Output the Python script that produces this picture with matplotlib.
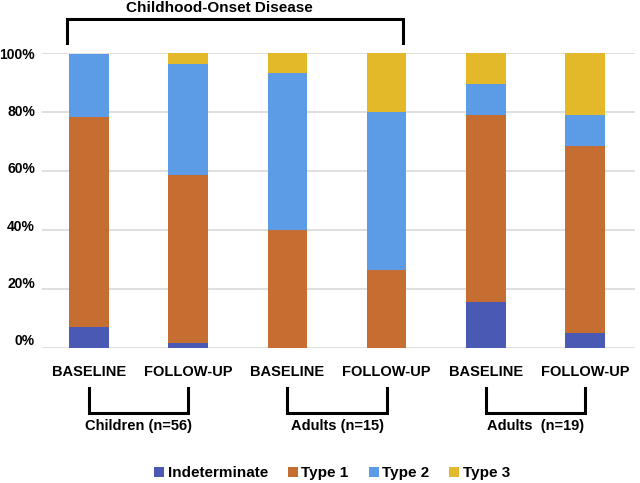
import matplotlib
matplotlib.use("Agg")
import matplotlib.pyplot as plt
import matplotlib.transforms as mtransforms
import numpy as np

plt.rcParams['font.family'] = ['Liberation Sans', 'DejaVu Sans']

# percentages per bar (children n=56, adults n=15, adults n=19)
visits = ["BASELINE", "FOLLOW-UP", "BASELINE", "FOLLOW-UP", "BASELINE", "FOLLOW-UP"]
indeterminate = [7.1, 1.8, 0.0, 0.0, 15.8, 5.3]
type1 = [71.4, 57.1, 40.0, 26.7, 63.2, 63.2]
type2 = [21.4, 37.5, 53.3, 53.3, 10.5, 10.5]
type3 = [0.0, 3.6, 6.7, 20.0, 10.5, 21.1]

series_names = ["Indeterminate", "Type 1", "Type 2", "Type 3"]
colors = ["#4A59B4", "#C66D31", "#5C9CE6", "#E3B829"]

groups = ["Children (n=56)", "Adults (n=15)", "Adults  (n=19)"]
group_bars = [(0, 1), (2, 3), (4, 5)]
top_label = "Childhood-Onset Disease"
top_span = (0, 3)

fig = plt.figure(figsize=(6.4, 4.83), dpi=100)
ax = fig.add_axes([0.0656, 0.2789, 0.9266, 0.6108])

x = np.arange(len(visits))
bottom = np.zeros(len(visits))
for name, vals, c in zip(series_names, [indeterminate, type1, type2, type3], colors):
    vals = np.array(vals)
    ax.bar(x, vals, 0.4, bottom=bottom, color=c, label=name, zorder=3)
    bottom += vals

ax.set_ylim(0, 100)
ax.set_xlim(-0.474, 5.504)
yt = np.arange(0, 101, 20)
ax.set_yticks(yt)
ax.set_yticklabels([f"{v}%" for v in yt], fontsize=10, fontweight='bold')
ax.grid(axis='y', color='#d9d9d9', lw=1.2, zorder=0)
for s in ax.spines.values():
    s.set_visible(False)
ax.tick_params(axis='y', length=0, pad=5)
# labels in the original sit a little above the lower gridlines
for v, lab in zip(yt, ax.get_yticklabels()):
    off = mtransforms.ScaledTranslation(0, (100 - v) / 100 * 6 / 72, fig.dpi_scale_trans)
    lab.set_transform(lab.get_transform() + off)

ax.set_xticks(x)
ax.set_xticklabels(visits, fontsize=10.5, fontweight='bold')
ax.tick_params(axis='x', length=0, pad=12)

trans = mtransforms.blended_transform_factory(ax.transData, ax.transAxes)

# top bracket
a, b = top_span
xl, xr = a - 0.222, b + 0.165
ax.plot([xl, xl, xr, xr], [1.035, 1.116, 1.116, 1.035], color='black', lw=2.2,
        transform=trans, clip_on=False, solid_joinstyle='miter')
ax.text(1.31, 1.154, top_label, transform=trans, ha='center', va='center',
        fontsize=11, fontweight='bold')

# lower brackets
for label, (i, j) in zip(groups, group_bars):
    ax.plot([i, i, j, j], [-0.134, -0.219, -0.219, -0.134], color='black', lw=2.2,
            transform=trans, clip_on=False, solid_joinstyle='miter')
    ax.text((i + j) / 2, -0.264, label, transform=trans, ha='center', va='center',
            fontsize=10.5, fontweight='bold')

fig.legend(loc='center', bbox_to_anchor=(0.519, 0.0207), ncol=4, frameon=False,
           prop={'weight': 'bold', 'size': 11}, handlelength=0.65, handleheight=0.65,
           handletextpad=0.25, columnspacing=1.3)

fig.savefig("out.png", dpi=100)
